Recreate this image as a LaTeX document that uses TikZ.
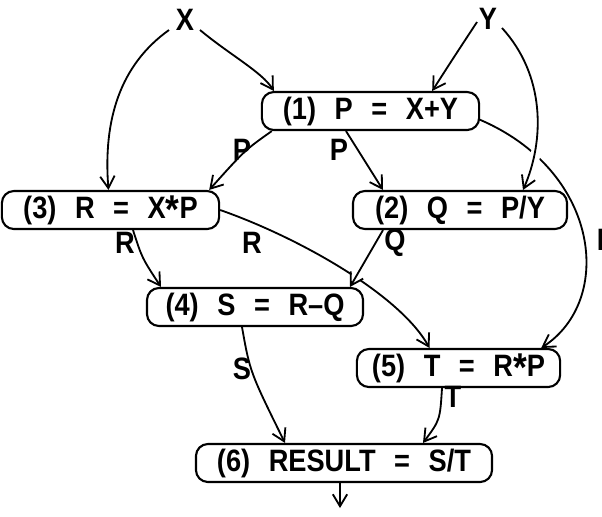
\documentclass[tikz,border=0pt]{standalone}
\usepackage{fontspec}
\setmainfont{Liberation Sans}[FakeStretch=0.88]
\usetikzlibrary{arrows.meta,calc}
\newcommand{\gp}{\hspace{0.6em}}
\newcommand{\tms}{\raisebox{-0.35ex}{\scalebox{1.3}{*}}}

\begin{document}
\begin{tikzpicture}[
  x=0.025cm, y=-0.025cm,
  font=\fontsize{22}{26}\selectfont\bfseries,
  stmt/.style={rectangle, draw, line width=1.5pt, rounded corners=0.3cm, minimum height=0.95cm, inner sep=0pt},
  var/.style={inner sep=1pt},
  arr/.style={-{Straight Barb[length=3mm, width=3.6mm]}, line width=1.3pt},
  gap/.style={preaction={draw=white, line width=7pt, -, shorten <=#1, shorten >=#1}}
]
  \useasboundingbox (0,0) rectangle (602,516);
  \clip (0,0) rectangle (602,516);

  % inputs
  \node[var] (X) at (185,20) {X};
  \node[var] (Y) at (488,19) {Y};

  % statements
  \node[stmt, minimum width=5.43cm] (s1) at (370.5,111) {(1)\gp P\gp=\gp X+Y};
  \node[stmt, minimum width=5.43cm] (s3) at (110.5,210) {(3)\gp R\gp=\gp X\tms P};
  \node[stmt, minimum width=5.35cm] (s2) at (460,210) {(2)\gp Q\gp=\gp P/Y};
  \node[stmt, minimum width=5.4cm] (s4) at (255,307) {(4)\gp S\gp=\gp R–Q};
  \node[stmt, minimum width=5.08cm] (s5) at (458.5,368) {(5)\gp T\gp=\gp R\tms P};
  \node[stmt, minimum width=7.4cm] (s6) at (344,463) {(6)\gp RESULT\gp=\gp S/T};
  \coordinate (out) at (340,508);

  % edges that are crossed over
  \draw[arr] ($(s1.east)+(-2,8)$) .. controls (600,170) and (615,300) .. ($(s5.north east)+(-20,0)$);
  \draw[arr] (s3.east) .. controls (300,238) and (400,295) .. ($(s5.north)+(-29,0)$);

  % remaining edges
  \draw[arr] ($(X)+(15,10)$) .. controls (230,55) and (262,72) .. ($(s1.north west)+(13,0)$);
  \draw[arr] ($(X)+(-16,10)$) .. controls (120,65) and (103,120) .. ($(s3.north)+(-2,0)$);
  \draw[arr] ($(Y)+(-11,3)$) .. controls (454,57) .. ($(s1.north east)+(-48,0)$);
  \draw[arr, gap=8pt] ($(Y)+(14,9)$) .. controls (545,75) and (545,140) .. ($(s2.north)+(63,0)$);
  \draw[arr] ($(s1.south west)+(11,0)$) .. controls (245,150) .. ($(s3.north east)+(-11,0)$);
  \draw[arr] ($(s1.south)+(-24.5,0)$) -- ($(s2.north)+(-77,0)$);
  \draw[arr] ($(s3.south)+(22.5,0)$) .. controls (142,258) .. ($(s4.north)+(-94,0)$);
  \draw[arr, gap=6pt] ($(s2.south)+(-77,0)$) -- ($(s4.north)+(95,0)$);
  \draw[arr] ($(s4.south)+(-13,0)$) .. controls (250,372) .. ($(s6.north)+(-59,0)$);
  \draw[arr] ($(s5.south)+(-16.5,0)$) .. controls (440,420) .. ($(s6.north)+(79,0)$);
  \draw[arr] ($(s6.south)+(-4,0)$) -- (out);

  % edge labels
  \node[var] (lp13) at (242,150) {P};
  \node[var] (lp12) at (339,150) {P};
  \node[var] (lp15) at (606,240) {P};
  \node[var] (lr34) at (125,243) {R};
  \node[var] (lr35) at (252,243) {R};
  \node[var] (lq24) at (395,243) {Q};
  \node[var] (ls46) at (242,369) {S};
  \node[var] (lt56) at (453,397) {T};
\end{tikzpicture}
\end{document}
